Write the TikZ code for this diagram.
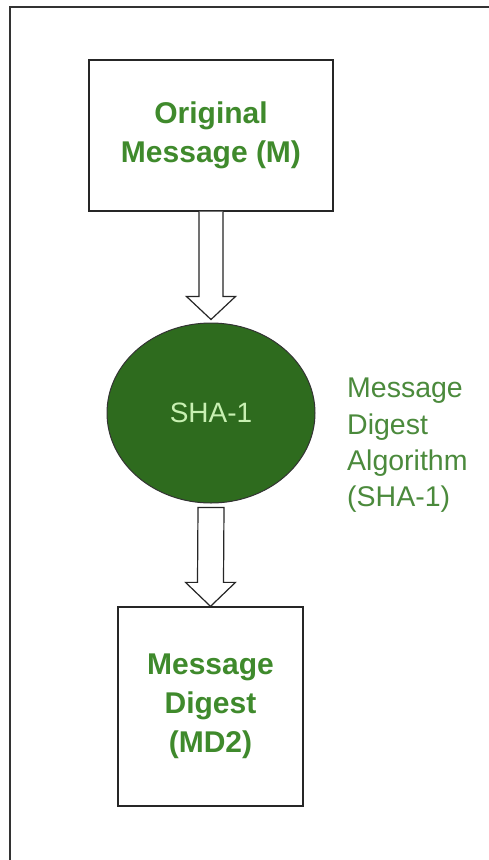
\documentclass[tikz,border=0pt]{standalone}
\usepackage{fontspec}
\setmainfont{Liberation Sans}
\usetikzlibrary{calc,shapes.geometric}
\definecolor{labelgreen}{HTML}{3F8A2C}
\definecolor{hashfill}{HTML}{2E6B1E}
\definecolor{hashtext}{HTML}{C8F0B2}
\definecolor{notegreen}{HTML}{4B8A3C}
\definecolor{frameline}{HTML}{333333}
\tikzset{
  msgbox/.style={draw=black!85, line width=1.3pt, inner sep=0pt, fill=white,
    font=\fontsize{30}{39}\selectfont\bfseries, text=labelgreen, align=center},
  hashnode/.style={ellipse, draw=black!80, line width=1pt, fill=hashfill, inner sep=0pt,
    font=\fontsize{28}{34}\selectfont, text=hashtext},
  notetext/.style={font=\fontsize{28.5}{36.3}\selectfont, text=notegreen, align=left, anchor=west, inner sep=0pt},
  flowarrow/.style={draw=black!85, line width=1.2pt, fill=white, line join=miter}
}
\begin{document}
\begin{tikzpicture}[x=1pt,y=-1pt]
  \useasboundingbox (0,0) rectangle (489,860);
  \fill[white] (0,0) rectangle (489,860);
  % outer frame: only its top and left sides fall inside the page
  \draw[frameline, line width=2pt] (489,7) -- (10,7) -- (10,860);

  \node[msgbox, minimum width=244pt, minimum height=151pt] (orig) at (211,135.5) {Original\\Message (M)};
  \node[hashnode, minimum width=208pt, minimum height=180pt] (sha) at (211,413) {SHA-1};
  \node[msgbox, minimum width=185pt, minimum height=199pt] (digest) at (210.5,706.5) {Message\\Digest\\(MD2)};
  \node[notetext] (note) at (347,445.5) {Message\\Digest\\Algorithm\\(SHA-1)};

  % hollow block arrow: original message -> SHA-1
  \draw[flowarrow]
    ($(orig.south)+(-12,0)$) -- ($(sha.north)+(-12,-26)$) -- ($(sha.north)+(-24.5,-26)$)
    -- ($(sha.north)+(0,-3)$) -- ($(sha.north)+(24.5,-26)$) -- ($(sha.north)+(12,-26)$)
    -- ($(orig.south)+(12,0)$);
  % hollow block arrow: SHA-1 -> message digest
  \draw[flowarrow]
    ($(sha.south)+(-13,4)$) -- ($(digest.north)+(-13,-24)$) -- ($(digest.north)+(-25,-24)$)
    -- (digest.north) -- ($(digest.north)+(25,-24)$) -- ($(digest.north)+(13,-24)$)
    -- ($(sha.south)+(13,4)$) -- cycle;
\end{tikzpicture}
\end{document}
